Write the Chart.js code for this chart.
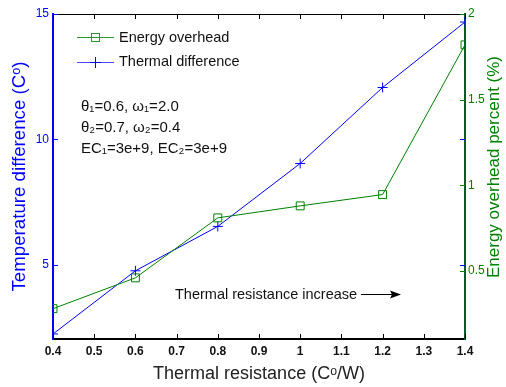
<!DOCTYPE html>
<html>
<head>
<meta charset="utf-8">
<script src="https://cdn.jsdelivr.net/npm/chart.js@4/dist/chart.umd.min.js"></script>
<style>
  html, body { margin: 0; padding: 0; background: #fff; }
  #wrap { width: 506px; height: 387px; }
</style>
</head>
<body>
<div id="wrap"><canvas id="chart" width="506" height="387"></canvas></div>
<script>
// datos
const resistance = [0.4, 0.6, 0.8, 1.0, 1.2, 1.4];
const thermalDiff = [2.24, 4.76, 6.53, 9.04, 12.07, 14.68];
const energyOverhead = [0.28, 0.46, 0.81, 0.88, 0.946, 1.82];

const xTicks = [0.4, 0.5, 0.6, 0.7, 0.8, 0.9, 1.0, 1.1, 1.2, 1.3, 1.4];
const leftTicks = [5, 10, 15];
const rightTicks = [0.5, 1, 1.5, 2];

const notes = ["θ₁=0.6, ω₁=2.0", "θ₂=0.7, ω₂=0.4", "EC₁=3e+9, EC₂=3e+9"];

const BLUE = "#0000ff";
const GREEN = "#008000";
const FONT = "'Liberation Sans', Arial, sans-serif";

const fmt = (v) => String(Math.round(v * 10) / 10);

// Ticks hacia dentro, caja, leyenda y anotaciones
const decorPlugin = {
  id: "decor",
  afterDraw(chart) {
    const ctx = chart.ctx;
    const area = chart.chartArea;
    const sx = chart.scales.x, sy = chart.scales.y, sy2 = chart.scales.y2;
    ctx.save();
    ctx.lineWidth = 1;

    // borde superior
    ctx.strokeStyle = "#000";
    ctx.beginPath();
    ctx.moveTo(area.left, area.top + 0.5);
    ctx.lineTo(area.right, area.top + 0.5);
    ctx.stroke();

    // ticks x (abajo y arriba)
    xTicks.forEach((v) => {
      const px = Math.round(sx.getPixelForValue(v)) + 0.5;
      ctx.beginPath();
      ctx.moveTo(px, area.bottom);
      ctx.lineTo(px, area.bottom - 5);
      ctx.moveTo(px, area.top);
      ctx.lineTo(px, area.top + 5);
      ctx.stroke();
    });

    // ticks izquierdos (azul, en ambos lados)
    ctx.strokeStyle = BLUE;
    leftTicks.forEach((v) => {
      const py = Math.round(sy.getPixelForValue(v)) + 0.5;
      ctx.beginPath();
      ctx.moveTo(area.left, py);
      ctx.lineTo(area.left + 5, py);
      ctx.moveTo(area.right, py);
      ctx.lineTo(area.right - 5, py);
      ctx.stroke();
    });

    // ticks derechos (verde)
    ctx.strokeStyle = GREEN;
    rightTicks.forEach((v) => {
      const py = Math.round(sy2.getPixelForValue(v)) + 0.5;
      ctx.beginPath();
      ctx.moveTo(area.right, py);
      ctx.lineTo(area.right - 5, py);
      ctx.stroke();
    });

    // titulo eje derecho (leido de abajo hacia arriba)
    ctx.save();
    ctx.translate(494, 167);
    ctx.rotate(-Math.PI / 2);
    ctx.font = "17px " + FONT;
    ctx.fillStyle = GREEN;
    ctx.textAlign = "center";
    ctx.textBaseline = "middle";
    ctx.fillText("Energy overhead percent (%)", 0, 0);
    ctx.restore();

    // leyenda
    ctx.font = "14.5px " + FONT;
    ctx.textBaseline = "middle";
    ctx.fillStyle = "#111";
    ctx.strokeStyle = "#2a9a2a";
    ctx.beginPath();
    ctx.moveTo(77, 37.5);
    ctx.lineTo(114, 37.5);
    ctx.stroke();
    ctx.strokeRect(91.5, 33.5, 8, 8);
    ctx.fillText("Energy overhead", 119, 38);

    ctx.strokeStyle = "#4a4aff";
    ctx.beginPath();
    ctx.moveTo(77, 62.5);
    ctx.lineTo(114, 62.5);
    ctx.stroke();
    ctx.strokeStyle = BLUE;
    ctx.beginPath();
    ctx.moveTo(95.5, 57);
    ctx.lineTo(95.5, 68);
    ctx.moveTo(90, 62.5);
    ctx.lineTo(101, 62.5);
    ctx.stroke();
    ctx.fillText("Thermal difference", 119, 62);

    // parametros
    ctx.font = "15px " + FONT;
    notes.forEach((t, i) => {
      ctx.fillText(t, 81, 107 + i * 21);
    });

    // flecha
    ctx.font = "14.5px " + FONT;
    ctx.fillText("Thermal resistance increase", 175, 295);
    ctx.strokeStyle = "#000";
    ctx.beginPath();
    ctx.moveTo(361, 294.5);
    ctx.lineTo(396, 294.5);
    ctx.stroke();
    ctx.fillStyle = "#000";
    ctx.beginPath();
    ctx.moveTo(401, 294.5);
    ctx.lineTo(390, 290.5);
    ctx.lineTo(392, 294.5);
    ctx.lineTo(390, 298.5);
    ctx.closePath();
    ctx.fill();

    ctx.restore();
  },
};

const ctx = document.getElementById("chart").getContext("2d");
new Chart(ctx, {
  type: "line",
  data: {
    datasets: [
      {
        label: "Energy overhead",
        data: resistance.map((r, i) => ({ x: r, y: energyOverhead[i] })),
        yAxisID: "y2",
        borderColor: GREEN,
        backgroundColor: "rgba(0,0,0,0)",
        borderWidth: 1,
        pointStyle: "rect",
        pointRadius: 5.6,
        pointBorderColor: GREEN,
        pointBackgroundColor: "rgba(0,0,0,0)",
        pointBorderWidth: 1,
        tension: 0,
      },
      {
        label: "Thermal difference",
        data: resistance.map((r, i) => ({ x: r, y: thermalDiff[i] })),
        yAxisID: "y",
        borderColor: BLUE,
        backgroundColor: "rgba(0,0,0,0)",
        borderWidth: 1,
        pointStyle: "cross",
        pointRadius: 5,
        pointBorderColor: BLUE,
        pointBorderWidth: 1,
        tension: 0,
      },
    ],
  },
  options: {
    responsive: false,
    animation: false,
    layout: { padding: { top: 14, left: 0, right: 0, bottom: 0 } },
    plugins: {
      legend: { display: false },
      tooltip: { enabled: false },
    },
    scales: {
      x: {
        type: "linear",
        min: 0.4,
        max: 1.4,
        afterBuildTicks: (s) => { s.ticks = xTicks.map((v) => ({ value: v })); },
        afterFit: (s) => { s.height = 48; },
        grid: { display: false, drawTicks: false },
        border: { display: true, color: "#000", width: 2 },
        ticks: {
          color: "#111",
          padding: 5,
          maxRotation: 0,
          font: { family: FONT, size: 12, weight: "bold" },
          callback: fmt,
        },
        title: {
          display: true,
          text: "Thermal resistance (Cᵒ/W)",
          color: "#222",
          padding: { top: 0, bottom: 2 },
          font: { family: FONT, size: 18 },
        },
      },
      y: {
        position: "left",
        min: 2.04,
        max: 15,
        afterBuildTicks: (s) => { s.ticks = leftTicks.map((v) => ({ value: v })); },
        afterFit: (s) => { s.width = 53; },
        grid: { display: false, drawTicks: false },
        border: { display: true, color: BLUE, width: 2 },
        ticks: {
          color: BLUE,
          padding: 4,
          font: { family: FONT, size: 12 },
        },
        title: {
          display: true,
          text: "Temperature difference (Cᵒ)",
          color: BLUE,
          padding: { top: 9, bottom: 0 },
          font: { family: FONT, size: 18.7 },
        },
      },
      y2: {
        position: "right",
        min: 0.103,
        max: 2,
        afterBuildTicks: (s) => { s.ticks = rightTicks.map((v) => ({ value: v })); },
        afterFit: (s) => { s.width = 41; },
        grid: { display: false, drawTicks: false },
        border: { display: true, color: "#0b5a2a", width: 2 },
        ticks: {
          color: GREEN,
          padding: 3,
          font: { family: FONT, size: 12 },
          callback: fmt,
        },
        title: { display: false },
      },
    },
  },
  plugins: [decorPlugin],
});
</script>
</body>
</html>
